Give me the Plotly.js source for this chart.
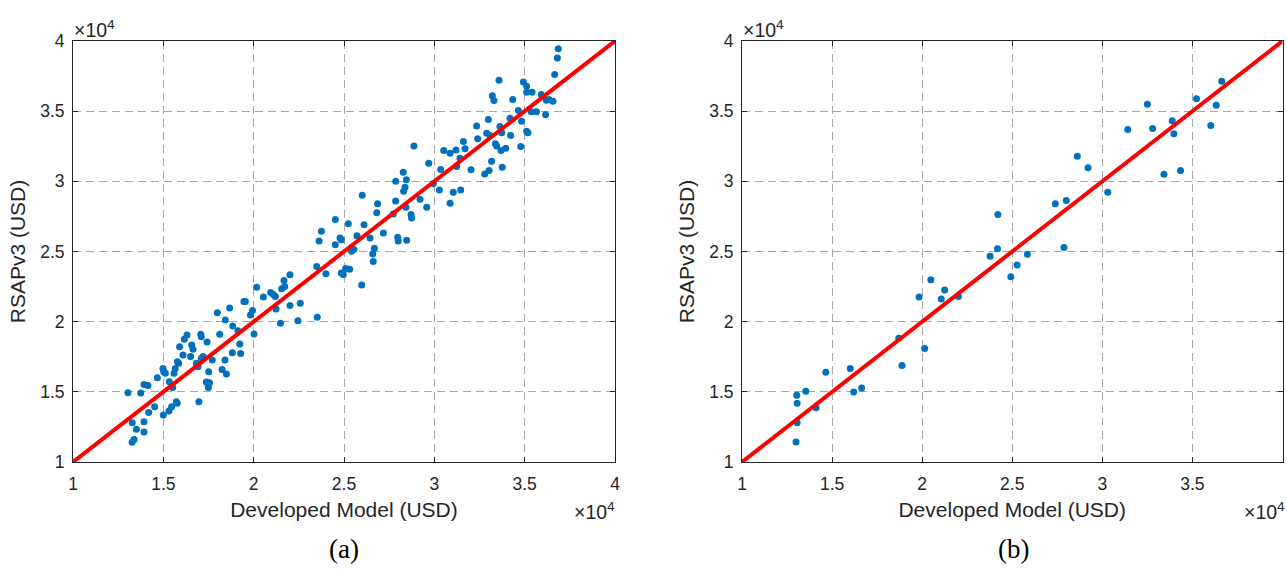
<!DOCTYPE html>
<html>
<head>
<meta charset="utf-8">
<script src="https://cdn.plot.ly/plotly-3.0.1.min.js"></script>
<style>html,body{margin:0;padding:0;background:#fff;}#chart{width:1287px;height:569px;}</style>
</head>
<body>
<div id="chart"></div>
<script>
// Panel (a): Developed Model vs RSAPv3 (USD)
var xA = [13040,13750,13280,13510,13380,13270,13930,13930,14190,14520,15000,15310,15460,15720,15770,16970,13930,14150,14670,14980,15020,15110,15330,15520,15590,15660,15780,15850,15900,16160,16310,16090,16570,16640,16510,16830,16920,17100,17200,17070,17100,17420,17380,17470,17560,17490,17510,17710,18120,17990,18430,18670,18840,18250,18490,18410,18820,19130,19230,19280,19460,19820,
19540,19940,20020,20170,20540,20940,21090,21200,21240,21480,21550,21720,21680,22010,22010,22450,22580,23490,23520,24000,23620,23750,24520,24520,24780,24850,24850,24960,25090,25310,25240,25420,25550,25720,25980,26010,26110,26440,26590,26620,26680,26810,26860,
27180,27860,27860,27730,27970,28280,28450,28300,28380,28430,28710,28740,28870,29210,29580,29690,29940,30280,30350,30520,30870,31050,30870,31200,31240,31420,31460,31610,31700,32030,32340,32400,32790,33030,32900,33080,32990,33170,33210,33300,33380,33450,33630,33690,33760,33950,33730,34190,34220,34340,34650,34780,34830,34930,35110,35110,35110,33580,
28000,28470,
36860,36810,36660,35410,35920,36200,36350,36570,36160,35370,35650,35180];
var yA = [14940,14920,12800,12330,11600,11400,12140,12870,13520,13940,13350,13630,13940,14300,14180,14300,15530,15460,16010,16670,16430,16320,15720,15300,16320,16670,17150,17030,18220,18740,19050,17620,18340,18030,17510,17030,16790,17390,17510,19100,18930,18550,15700,15560,15650,15300,16440,17270,19100,20640,20120,20980,19690,16600,16270,17270,17790,19360,18410,17740,21430,20480,
21440,20800,19130,22460,21750,22080,21940,21790,20910,19890,22340,22510,22930,23340,21150,20060,21320,23930,20320,23410,25740,26450,27280,25480,25970,25830,23460,23360,23790,23740,26970,25020,25140,26120,22620,29010,26900,25970,24830,24290,25240,27760,28400,
26310,30010,28590,27680,26020,30650,30110,29300,29580,28160,27640,27380,32510,28730,28160,31290,29820,29390,30840,32200,32010,29230,28440,32240,31060,31650,29390,32840,32320,30820,33950,33030,30530,30770,33430,33270,34410,31440,36090,35760,32670,32510,33910,32200,31010,32360,33460,34500,33270,35830,35050,32480,34290,37070,36780,36350,33570,37200,
25750,25800,
39440,38780,37610,36350,36190,35780,35830,35710,34740,34950,34950,33460];

// Panel (b)
var xB = [13000,13060,13060,13040,13540,14110,14650,16010,16200,16640,18700,18880,19830,20140,20480,21060,21250,22010,23770,24180,24200,24920,25270,25840,27390,28000,27870,28610,29210,30300,31410,32500,32790,33420,33880,33970,34340,35230,36020,36320,36630];
var yB = [11420,12800,14190,14760,15050,13860,16400,16660,14980,15280,18820,16870,21750,18080,22990,21610,22250,21800,24670,25190,27630,23200,24030,24810,28410,28630,25280,31780,30970,29220,33700,35500,33770,30500,34310,33390,30780,35880,33980,35430,37130];

// Reference line y = x
var lineXY = [10000, 40000];

var tickVals = [10000,15000,20000,25000,30000,35000,40000];
var tickText = ['1','1.5','2','2.5','3','3.5','4'];
var xTitle = 'Developed Model (USD)';
var yTitle = 'RSAPv3 (USD)';
var panelLabels = ['(a)', '(b)'];
var expLabel = '\u00d710<sup>4</sup>';

var dark = '#262626';
var blue = '#0072BD';
var tickFont = {family: 'Liberation Sans, Arial, sans-serif', size: 17.5, color: dark};
var titleFont = {family: 'Liberation Sans, Arial, sans-serif', size: 21, color: dark};

function axis(domain, anchor, title, isX) {
  return {
    domain: domain, anchor: anchor, range: [10000, 40000],
    tickmode: 'array', tickvals: tickVals, ticktext: tickText,
    ticks: 'inside', ticklen: 5, tickwidth: 1, tickcolor: dark,
    ticklabelstandoff: isX ? 6 : 4,
    showline: true, linecolor: dark, linewidth: 1, mirror: 'ticks',
    showgrid: true, gridcolor: '#a8a8a8', gridwidth: 1, griddash: '8px,5px',
    zeroline: false, tickfont: tickFont, fixedrange: true,
    title: {text: title, font: titleFont, standoff: isX ? 9 : 8}
  };
}

var dx1 = [73/1287, 615/1287], dx2 = [742/1287, 1282.5/1287];
var dy = [(569-462)/569, (569-41)/569];

var traces = [
  {x: xA, y: yA, type: 'scatter', mode: 'markers', xaxis: 'x', yaxis: 'y',
   marker: {color: blue, size: 7}, hoverinfo: 'skip'},
  {x: lineXY, y: lineXY, type: 'scatter', mode: 'lines', xaxis: 'x', yaxis: 'y',
   line: {color: '#FF0000', width: 4}, hoverinfo: 'skip'},
  {x: xB, y: yB, type: 'scatter', mode: 'markers', xaxis: 'x2', yaxis: 'y2',
   marker: {color: blue, size: 7}, hoverinfo: 'skip'},
  {x: lineXY, y: lineXY, type: 'scatter', mode: 'lines', xaxis: 'x2', yaxis: 'y2',
   line: {color: '#FF0000', width: 4}, hoverinfo: 'skip'}
];

var expFont = {family: 'Liberation Sans, Arial, sans-serif', size: 19.5, color: dark};
var layout = {
  width: 1287, height: 569,
  margin: {l: 0, r: 0, t: 0, b: 0},
  paper_bgcolor: '#ffffff', plot_bgcolor: '#ffffff',
  showlegend: false,
  xaxis: axis(dx1, 'y', xTitle, true),
  yaxis: axis(dy, 'x', yTitle, false),
  xaxis2: axis(dx2, 'y2', xTitle, true),
  yaxis2: axis(dy, 'x2', yTitle, false),
  annotations: [
    {text: expLabel, xref: 'paper', yref: 'paper', x: 72/1287, y: (569-43)/569, xanchor: 'left', yanchor: 'bottom', showarrow: false, font: expFont},
    {text: expLabel, xref: 'paper', yref: 'paper', x: 741/1287, y: (569-43)/569, xanchor: 'left', yanchor: 'bottom', showarrow: false, font: expFont},
    {text: expLabel, xref: 'paper', yref: 'paper', x: 617/1287, y: (569-497)/569, xanchor: 'right', yanchor: 'top', showarrow: false, font: expFont},
    {text: expLabel, xref: 'paper', yref: 'paper', x: 1287/1287, y: (569-497)/569, xanchor: 'right', yanchor: 'top', showarrow: false, font: expFont},
    {text: panelLabels[0], xref: 'paper', yref: 'paper', x: 344/1287, y: (569-549)/569, xanchor: 'center', yanchor: 'middle', showarrow: false, font: {family: 'Liberation Serif, Times New Roman, serif', size: 27, color: '#000000'}},
    {text: panelLabels[1], xref: 'paper', yref: 'paper', x: 1013/1287, y: (569-549)/569, xanchor: 'center', yanchor: 'middle', showarrow: false, font: {family: 'Liberation Serif, Times New Roman, serif', size: 27, color: '#000000'}}
  ]
};

Plotly.newPlot('chart', traces, layout, {staticPlot: true, displayModeBar: false});
</script>
</body>
</html>
